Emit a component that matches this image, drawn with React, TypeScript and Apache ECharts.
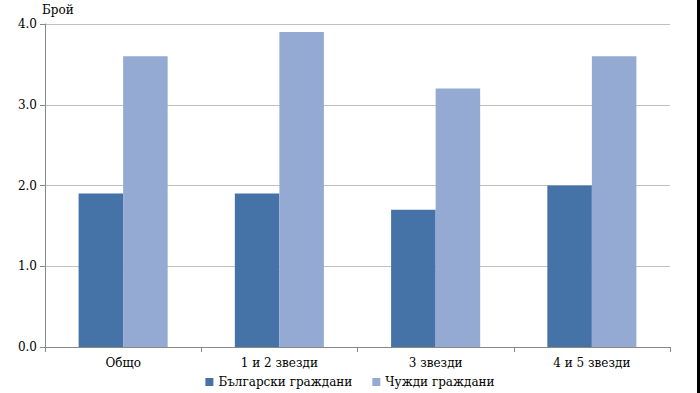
import React, { useEffect, useRef } from "react";
import * as echarts from "echarts";

const categories = ["Общо", "1 и 2 звезди", "3 звезди", "4 и 5 звезди"];
const bulgarian = [1.9, 1.9, 1.7, 2.0];
const foreign = [3.6, 3.9, 3.2, 3.6];
const seriesNames = ["Български граждани", "Чужди граждани"];
const yAxisTitle = "Брой";

const FONT = "DejaVu Serif";

export default function App() {
  const ref = useRef<HTMLDivElement>(null);
  useEffect(() => {
    if (!ref.current) return;
    const chart = echarts.init(ref.current, undefined, { renderer: "svg" });
    chart.setOption({
      animation: false,
      backgroundColor: "#ffffff",
      textStyle: { fontFamily: FONT },
      grid: { left: 45, right: 30, top: 24, bottom: 46, containLabel: false },
      legend: {
        data: seriesNames,
        bottom: 0,
        left: "center",
        itemWidth: 8,
        itemHeight: 8,
        itemGap: 20,
        icon: "rect",
        textStyle: { fontFamily: FONT, fontSize: 12, color: "#000" },
      },
      xAxis: {
        type: "category",
        data: categories,
        axisLine: { lineStyle: { color: "#888", width: 1 } },
        axisTick: { show: true, alignWithLabel: false, length: 5, lineStyle: { color: "#888" } },
        axisLabel: { fontFamily: FONT, fontSize: 12, color: "#000", margin: 10 },
      },
      yAxis: {
        type: "value",
        min: 0,
        max: 4,
        interval: 1,
        axisLine: { show: true, lineStyle: { color: "#888" } },
        axisTick: { show: true, inside: false, length: 5, lineStyle: { color: "#888" } },
        axisLabel: {
          fontFamily: FONT,
          fontSize: 12,
          color: "#000",
          formatter: (v: number) => v.toFixed(1),
          margin: 8,
        },
        splitLine: { lineStyle: { color: "#c0c0c0", width: 1 } },
      },
      series: [
        {
          name: seriesNames[0],
          type: "bar",
          data: bulgarian,
          barGap: "0%",
          barCategoryGap: "43%",
          itemStyle: { color: "#4572A7" },
        },
        {
          name: seriesNames[1],
          type: "bar",
          data: foreign,
          barGap: "0%",
          barCategoryGap: "43%",
          itemStyle: { color: "#95AAD2" },
        },
      ],
      graphic: [
        {
          type: "text",
          left: 42,
          top: 4,
          style: { text: yAxisTitle, fontFamily: FONT, fontSize: 12, fill: "#000" },
        },
        {
          type: "rect",
          left: 697,
          top: 0,
          shape: { width: 3, height: 393 },
          style: { fill: "#000" },
        },
      ],
    });
    return () => chart.dispose();
  }, []);
  return <div ref={ref} style={{ width: 700, height: 393, position: "fixed", left: 0, top: 0 }} />;
}
